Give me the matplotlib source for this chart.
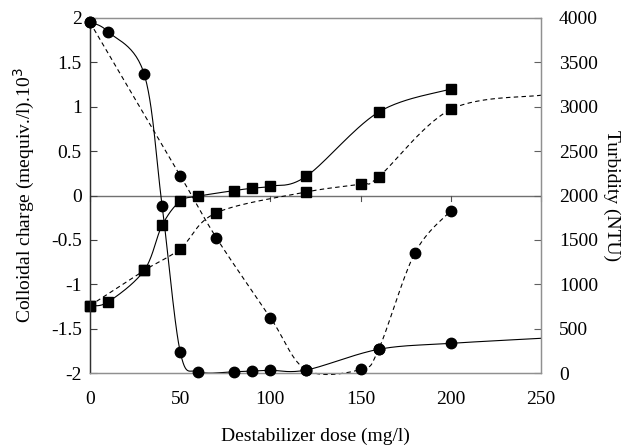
import numpy as np
import matplotlib
matplotlib.use('Agg')
import matplotlib.pyplot as plt

plt.rcParams['font.family'] = ['Liberation Serif', 'DejaVu Serif']
plt.rcParams['font.size'] = 14

# colloidal charge (left axis), squares
charge_solid_x = [0, 10, 30, 40, 50, 60, 80, 90, 100, 120, 160, 200]
charge_solid_y = [-1.24, -1.20, -0.845, -0.335, -0.064, -0.008, 0.056, 0.082, 0.105, 0.218, 0.94, 1.20]
charge_dash_x = [0, 30, 50, 70, 120, 150, 160, 200]
charge_dash_y = [-1.24, -0.845, -0.60, -0.195, 0.04, 0.13, 0.21, 0.97]
charge_dash_end = (250, 1.13)

# turbidity (right axis), circles
turb_solid_x = [0, 10, 30, 40, 50, 60, 80, 90, 100, 120, 160, 200]
turb_solid_y = [3950, 3846, 3370, 1880, 240, 15, 15, 23, 30, 34, 267, 334]
turb_solid_end = (250, 391)
turb_dash_x = [0, 50, 70, 100, 120, 150, 160, 180, 200]
turb_dash_y = [3950, 2225, 1525, 623, 34, 40, 267, 1349, 1829]

xticks = [0, 50, 100, 150, 200, 250]
left_ticks = [-2, -1.5, -1, -0.5, 0, 0.5, 1, 1.5, 2]
right_ticks = list(range(0, 4001, 500))


def smooth(x, y, n=30):
    # catmull-rom (same as excel "smoothed line")
    p = np.column_stack([x, y]).astype(float)
    p = np.vstack([p[0], p, p[-1]])
    out = []
    for i in range(1, len(p) - 2):
        p0, p1, p2, p3 = p[i - 1], p[i], p[i + 1], p[i + 2]
        c1 = p1 + (p2 - p0) / 6
        c2 = p2 - (p3 - p1) / 6
        t = np.linspace(0, 1, n)[:, None]
        seg = (1 - t)**3 * p1 + 3 * (1 - t)**2 * t * c1 + 3 * (1 - t) * t**2 * c2 + t**3 * p2
        out.append(seg if i == 1 else seg[1:])
    s = np.vstack(out)
    return s[:, 0], s[:, 1]


fig = plt.figure(figsize=(6.23, 4.46), dpi=100)
ax = fig.add_axes([90/623, 1 - 373/446, 451/623, 355/446])
ax2 = ax.twinx()

lw = 0.8
dash = (0, (4, 3))
ms_sq = 7
ms_ci = 7.5

# squares
sx, sy = smooth(charge_solid_x, charge_solid_y)
ax.plot(sx, sy, color='black', lw=lw, clip_on=False)
sx, sy = smooth(charge_dash_x + [charge_dash_end[0]], charge_dash_y + [charge_dash_end[1]])
ax.plot(sx, sy, color='black', lw=lw, ls=dash, clip_on=False)
ax.plot(charge_solid_x, charge_solid_y, 's', color='black', ms=ms_sq, clip_on=False, zorder=5)
ax.plot(charge_dash_x, charge_dash_y, 's', color='black', ms=ms_sq, clip_on=False, zorder=5)

# circles
sx, sy = smooth(turb_solid_x + [turb_solid_end[0]], turb_solid_y + [turb_solid_end[1]])
ax2.plot(sx, sy, color='black', lw=lw, clip_on=False)
sx, sy = smooth(turb_dash_x, turb_dash_y)
ax2.plot(sx, sy, color='black', lw=lw, ls=dash, clip_on=False)
ax2.plot(turb_solid_x, turb_solid_y, 'o', color='black', ms=ms_ci, clip_on=False, zorder=5)
ax2.plot(turb_dash_x, turb_dash_y, 'o', color='black', ms=ms_ci, clip_on=False, zorder=5)

# x axis crossing at zero with ticks pointing down
ax.axhline(0, color='#707070', lw=1.0, zorder=1)
for t in xticks:
    ax.plot([t, t], [0, -0.06], color='#505050', lw=0.8, zorder=1, clip_on=False)

ax.set_xlim(0, 250)
ax.set_ylim(-2, 2)
ax2.set_ylim(0, 4000)
ax.set_xticks(xticks)
ax.set_yticks(left_ticks)
ax.set_yticklabels(['-2', '-1.5', '-1', '-0.5', '0', '0.5', '1', '1.5', '2'])
ax2.set_yticks(right_ticks)

ax.tick_params(axis='x', length=0, pad=13)
ax.tick_params(axis='y', direction='in', length=5, pad=6, color='#404040')
ax2.tick_params(axis='y', direction='in', length=5, pad=13, color='#606060')

for a in (ax, ax2):
    for s in ('top', 'right', 'bottom'):
        a.spines[s].set_color('#909090')
        a.spines[s].set_linewidth(0.9)
    a.spines['left'].set_color('#303030')
    a.spines['left'].set_linewidth(0.9)

ax.set_xlabel('Destabilizer dose (mg/l)')
ax.xaxis.set_label_coords(0.5, -0.155)
ax.set_ylabel('Colloidal charge (mequiv./l).10$^3$')
ax.yaxis.set_label_coords(-0.118, 0.5)
ax2.set_ylabel('Turbidity (NTU)', rotation=270, va='center')
ax2.yaxis.set_label_coords(1.157, 0.5)

fig.savefig('out.png', dpi=100)
